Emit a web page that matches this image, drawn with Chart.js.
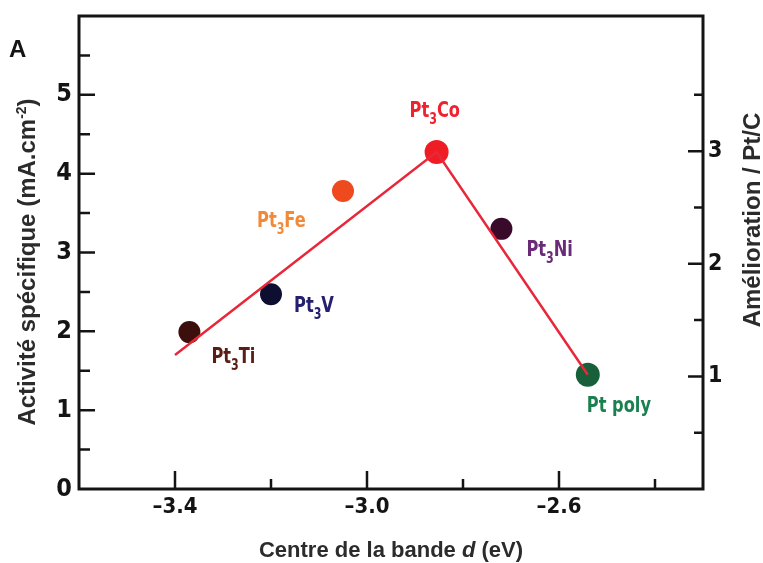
<!DOCTYPE html>
<html>
<head>
<meta charset="utf-8">
<script src="https://cdn.jsdelivr.net/npm/chart.js@4"></script>
<style>
  html, body { margin: 0; padding: 0; background: #ffffff; }
  #wrap { width: 763px; height: 563px; }
</style>
</head>
<body>
<div id="wrap"><canvas id="c" width="763" height="563"></canvas></div>
<script>
// ---- data ----
const alloyNames   = ['Pt3Ti', 'Pt3V', 'Pt3Fe', 'Pt3Co', 'Pt3Ni', 'Pt poly'];
const dBandCentre  = [-3.37, -3.20, -3.05, -2.855, -2.72, -2.54];   // eV
const activity     = [1.99, 2.47, 3.78, 4.275, 3.30, 1.45];          // mA.cm-2
const trendX       = [-3.40, -2.855, -2.54];
const trendY       = [1.70, 4.275, 1.45];
const xTickLabels  = [-3.4, -3.0, -2.6];
const xMinorTicks  = [-3.2, -2.8, -2.4];
const yLeftTicks   = [0, 1, 2, 3, 4, 5];
const yLeftMinor   = [0.5, 1.5, 2.5, 3.5, 4.5, 5.5];
const yRightTicks  = [1, 2, 3];
const yRightMinor  = [0.5, 1.5, 2.5, 3.5];

// ---- styles ----
const markerColors = ['#3d0f0c', '#0e0e30', '#ee4a1e', '#f01c24', '#3a0a2a', '#17603a'];
const labelColors  = ['#5a1e14', '#24206e', '#f08a3a', '#f0222e', '#6a2a78', '#1a8050'];
const labelParts   = [['Pt','3','Ti'], ['Pt','3','V'], ['Pt','3','Fe'], ['Pt','3','Co'], ['Pt','3','Ni'], ['Pt poly','','']];
const labelOffsets = [[22, 31], [23, 18], [-86, 36], [-27, -35], [25, 27], [-1, 37]];
const NARROW = '"Liberation Sans Narrow", "Arial Narrow", "DejaVu Sans Condensed", sans-serif';
const SANS = '"Liberation Sans", Arial, sans-serif';
const INK = '#141414';
const TITLE_INK = '#2b2b2b';

const points = dBandCentre.map((x, i) => ({ x: x, y: activity[i] }));
const trend = trendX.map((x, i) => ({ x: x, y: trendY[i] }));

function drawSubLabel(ctx, x, y, parts, color) {
  ctx.save();
  ctx.translate(x, y);
  ctx.scale(0.82, 1);
  ctx.fillStyle = color;
  ctx.textBaseline = 'alphabetic';
  ctx.textAlign = 'left';
  ctx.font = 'bold 22px ' + NARROW;
  ctx.fillText(parts[0], 0, 0);
  let cx = ctx.measureText(parts[0]).width;
  if (parts[1]) {
    ctx.font = 'bold 15px ' + NARROW;
    ctx.fillText(parts[1], cx, 7);
    cx += ctx.measureText(parts[1]).width;
  }
  if (parts[2]) {
    ctx.font = 'bold 22px ' + NARROW;
    ctx.fillText(parts[2], cx, 0);
  }
  ctx.restore();
}

const decorPlugin = {
  id: 'decor',
  afterDraw(chart) {
    const ctx = chart.ctx;
    const a = chart.chartArea;
    const sx = chart.scales.x, sy = chart.scales.y, sy2 = chart.scales.y2;
    ctx.save();
    // frame
    ctx.strokeStyle = INK;
    ctx.lineWidth = 3;
    ctx.strokeRect(a.left, a.top, a.right - a.left, a.bottom - a.top);
    // tick marks (inward)
    ctx.lineWidth = 2.5;
    ctx.beginPath();
    yLeftTicks.forEach(v => { if (v > 0) { const p = sy.getPixelForValue(v); ctx.moveTo(a.left, p); ctx.lineTo(a.left + 16, p); } });
    yLeftMinor.forEach(v => { const p = sy.getPixelForValue(v); ctx.moveTo(a.left, p); ctx.lineTo(a.left + 11, p); });
    yRightTicks.forEach(v => { const p = sy2.getPixelForValue(v); ctx.moveTo(a.right, p); ctx.lineTo(a.right - 15, p); });
    yRightMinor.forEach(v => { const p = sy2.getPixelForValue(v); ctx.moveTo(a.right, p); ctx.lineTo(a.right - 9, p); });
    xTickLabels.forEach(v => { const p = sx.getPixelForValue(v); ctx.moveTo(p, a.bottom); ctx.lineTo(p, a.bottom - 18); });
    xMinorTicks.forEach(v => { const p = sx.getPixelForValue(v); ctx.moveTo(p, a.bottom); ctx.lineTo(p, a.bottom - 10); });
    ctx.stroke();

    // point labels
    points.forEach((pt, i) => {
      const px = sx.getPixelForValue(pt.x), py = sy.getPixelForValue(pt.y);
      drawSubLabel(ctx, px + labelOffsets[i][0], py + labelOffsets[i][1], labelParts[i], labelColors[i]);
    });

    // panel letter
    ctx.fillStyle = INK;
    ctx.font = 'bold 24px ' + SANS;
    ctx.textAlign = 'left';
    ctx.textBaseline = 'alphabetic';
    ctx.fillText('A', 9, 57);

    // bottom axis title with italic d
    ctx.fillStyle = TITLE_INK;
    const t1 = 'Centre de la bande ', t2 = 'd', t3 = ' (eV)';
    ctx.font = 'bold 22px ' + SANS;
    const w1 = ctx.measureText(t1).width, w3 = ctx.measureText(t3).width;
    ctx.font = 'italic bold 22px ' + SANS;
    const w2 = ctx.measureText(t2).width;
    let bx = 391 - (w1 + w2 + w3) / 2;
    ctx.font = 'bold 22px ' + SANS;
    ctx.fillText(t1, bx, 557);
    ctx.font = 'italic bold 22px ' + SANS;
    ctx.fillText(t2, bx + w1, 557);
    ctx.font = 'bold 22px ' + SANS;
    ctx.fillText(t3, bx + w1 + w2, 557);

    // left axis title (rotated, reading upward) with superscript
    ctx.save();
    ctx.translate(35, 262);
    ctx.rotate(-Math.PI / 2);
    const l1 = 'Activité spécifique (mA.cm', l2 = '-2', l3 = ')';
    ctx.font = 'bold 24px ' + SANS;
    const lw1 = ctx.measureText(l1).width, lw3 = ctx.measureText(l3).width;
    ctx.font = 'bold 14px ' + SANS;
    const lw2 = ctx.measureText(l2).width;
    let lx = -(lw1 + lw2 + lw3) / 2;
    ctx.font = 'bold 24px ' + SANS;
    ctx.fillText(l1, lx, 0);
    ctx.font = 'bold 14px ' + SANS;
    ctx.fillText(l2, lx + lw1, -9);
    ctx.font = 'bold 24px ' + SANS;
    ctx.fillText(l3, lx + lw1 + lw2, 0);
    ctx.restore();

    // right axis title (rotated, reading upward)
    ctx.save();
    ctx.translate(760, 220);
    ctx.rotate(-Math.PI / 2);
    ctx.font = 'bold 24px ' + SANS;
    ctx.textAlign = 'center';
    ctx.fillText('Amélioration / Pt/C', 0, 0);
    ctx.restore();

    ctx.restore();
  }
};

function dash(v) { return (v < 0 ? '\u2013' : '') + Math.abs(v).toFixed(1); }

new Chart(document.getElementById('c'), {
  type: 'scatter',
  data: {
    datasets: [
      {
        type: 'line',
        label: 'tendance',
        data: trend,
        borderColor: '#e8283a',
        borderWidth: 2.5,
        pointRadius: 0,
        fill: false,
        tension: 0,
        order: 0,
        yAxisID: 'y'
      },
      {
        label: 'alliages',
        data: points,
        backgroundColor: markerColors,
        borderColor: markerColors,
        borderWidth: 0,
        pointRadius: [11, 11, 11, 12, 11, 12],
        pointHoverRadius: 12,
        order: 1,
        yAxisID: 'y'
      }
    ]
  },
  options: {
    responsive: false,
    devicePixelRatio: 1,
    animation: false,
    events: [],
    layout: { padding: { top: 16, left: 0, right: 0, bottom: 0 } },
    plugins: { legend: { display: false }, tooltip: { enabled: false }, title: { display: false } },
    scales: {
      x: {
        type: 'linear',
        position: 'bottom',
        min: -3.6,
        max: -2.3,
        grid: { display: false, drawTicks: false },
        border: { display: false },
        afterBuildTicks: s => { s.ticks = xTickLabels.map(v => ({ value: v })); },
        afterFit: s => { s.height = 74; s.paddingLeft = 0; s.paddingRight = 0; },
        ticks: {
          autoSkip: false, maxRotation: 0, minRotation: 0,
          padding: 5,
          color: INK,
          font: { family: NARROW, size: 22, weight: 'bold' },
          callback: v => dash(v)
        }
      },
      y: {
        type: 'linear',
        position: 'left',
        min: 0,
        max: 6,
        grid: { display: false, drawTicks: false },
        border: { display: false },
        afterBuildTicks: s => { s.ticks = yLeftTicks.map(v => ({ value: v })); },
        afterFit: s => { s.width = 79; s.paddingTop = 0; s.paddingBottom = 0; },
        ticks: {
          padding: 7,
          color: INK,
          font: { family: NARROW, size: 25, weight: 'bold' },
          callback: v => String(v)
        }
      },
      y2: {
        type: 'linear',
        position: 'right',
        min: 0,
        max: 4.2,
        grid: { display: false, drawTicks: false },
        border: { display: false },
        afterBuildTicks: s => { s.ticks = yRightTicks.map(v => ({ value: v })); },
        afterFit: s => { s.width = 60; s.paddingTop = 0; s.paddingBottom = 0; },
        ticks: {
          padding: 5,
          color: INK,
          font: { family: NARROW, size: 23, weight: 'bold' },
          callback: v => String(v)
        }
      }
    }
  },
  plugins: [decorPlugin]
});
</script>
</body>
</html>
